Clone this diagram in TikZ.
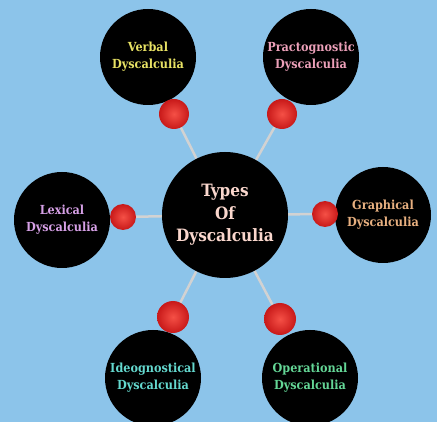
\documentclass[tikz,border=0pt]{standalone}
\usepackage{fontspec}
\setmainfont{DejaVu Serif Condensed}
\usetikzlibrary{positioning}
\definecolor{skyback}{RGB}{140,196,234}
\definecolor{coretext}{RGB}{250,215,205}
\definecolor{verbaltext}{RGB}{232,226,100}
\definecolor{practtext}{RGB}{236,160,185}
\definecolor{lexictext}{RGB}{214,160,230}
\definecolor{graphtext}{RGB}{232,176,128}
\definecolor{ideotext}{RGB}{100,216,206}
\definecolor{opertext}{RGB}{100,214,150}
\definecolor{knobglow}{RGB}{245,80,70}
\definecolor{knobrim}{RGB}{200,25,25}
\pgfdeclarelayer{sky}
\pgfdeclarelayer{stems}
\pgfsetlayers{sky,stems,main}

\begin{document}
\begin{tikzpicture}[x=1pt, y=-1pt,
    bigdot/.style={circle, fill=black, inner sep=0pt, minimum size=96pt, align=center,
      font=\bfseries\fontsize{12.5}{17}\selectfont},
    knob/.style={circle, inner color=knobglow, outer color=knobrim, inner sep=0pt, minimum size=30pt},
    stem/.style={line width=2.5pt, draw=gray!35}]
    \useasboundingbox (0,0) rectangle (437,422);
    \begin{pgfonlayer}{sky}
      \fill[skyback] (0,0) rectangle (437,422);
    \end{pgfonlayer}

    \node[bigdot, minimum size=126pt, text=coretext, font=\bfseries\fontsize{17}{22.5}\selectfont] (types) at (225,215) {Types\\Of\\Dyscalculia};

    \foreach \n/\x/\y/\bx/\by/\s/\c/\t in {
      verbal/148/57/174/114/30/verbaltext/Verbal,
      pract/311/57/282/114/30/practtext/Practognostic,
      lexical/62/220/123/217/26/lexictext/Lexical,
      graph/383/215/325/214/26/graphtext/Graphical,
      ideo/153/378/173/317/32/ideotext/Ideognostical,
      oper/310/378/280/319/32/opertext/Operational} {
      \node[bigdot, text=\c] (\n) at (\x,\y) {\t\\Dyscalculia};
      \node[knob, minimum size=\s pt] (\n-knob) at (\bx,\by) {};
      \begin{pgfonlayer}{stems}
        \draw[stem] (types) -- (\n-knob);
      \end{pgfonlayer}
    }
\end{tikzpicture}
\end{document}
